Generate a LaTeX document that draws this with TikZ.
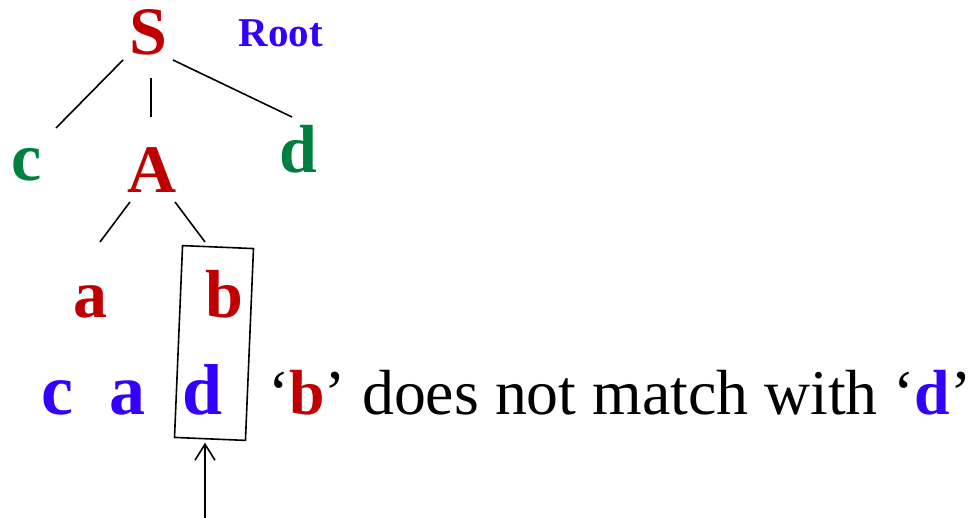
\documentclass[tikz,border=0pt]{standalone}
\usepackage{fontspec}
\setmainfont{Liberation Serif}
\usetikzlibrary{arrows.meta,calc}
\definecolor{symred}{RGB}{192,0,0}
\definecolor{symgreen}{RGB}{0,128,64}
\definecolor{symblue}{RGB}{51,0,255}
\tikzset{
  sym/.style={inner sep=0pt, anchor=base, font=\fontsize{68}{80}\selectfont\bfseries},
  inp/.style={inner sep=0pt, anchor=base, font=\fontsize{72}{84}\selectfont\bfseries, text=symblue},
  edge/.style={line width=1.6pt, black},
}
\begin{document}
\begin{tikzpicture}[x=1pt,y=-1pt]
\useasboundingbox (0,0) rectangle (975,518);
% parse tree
\node[sym, text=symred]   (S)  at (148,55)  {S};
\node[inner sep=0pt, anchor=base, font=\fontsize{41}{48}\selectfont\bfseries, text=symblue] (root) at (281,47) {Root};
\node[sym, text=symgreen] (c)  at (27,181)  {c};
\node[sym, text=symred]   (A)  at (152,193) {A};
\node[sym, text=symgreen] (dg) at (298,173) {d};
\node[sym, text=symred]   (a)  at (90,318)  {a};
\node[sym, text=symred]   (b)  at (224,318) {b};
\draw[edge] ([shift={(-25,5)}]S.base)  -- ([shift={(29,-53)}]c.base);
\draw[edge] ([shift={(3,23)}]S.base)   -- ([shift={(-1,-76)}]A.base);
\draw[edge] ([shift={(25,5)}]S.base)   -- ([shift={(-6,-56)}]dg.base);
\draw[edge] ([shift={(-22,9)}]A.base)  -- ([shift={(10,-76)}]a.base);
\draw[edge] ([shift={(23,9)}]A.base)   -- ([shift={(-19,-76)}]b.base);
% input string
\node[inp] (ic) at (57,415)  {c};
\node[inp] (ia) at (127,415) {a};
\node[inp] (id) at (203,415) {d};
\node[inner sep=0pt, anchor=base west, font=\fontsize{63.8}{75}\selectfont] (msg) at (268,415)
  {‘\textcolor{symred}{\bfseries b}’ does not match with ‘\textcolor{symblue}{\bfseries d}’};
% comparison frame and input pointer
\node[draw, line width=1.6pt, minimum width=71, minimum height=192, inner sep=0pt, rotate=-2.4] (frame) at (214,343) {};
\coordinate (foot) at (205,518);
\draw[line width=1.6pt, -{Straight Barb[length=16pt,width=20pt,line width=1.6pt]}, shorten >=3pt]
  (foot) -- (foot |- frame.south);
\end{tikzpicture}
\end{document}
